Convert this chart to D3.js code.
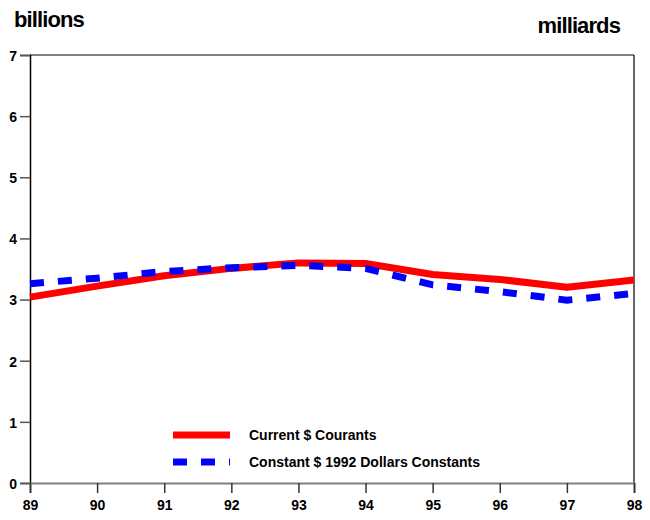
<!DOCTYPE html>
<html lang="en">
<head>
<meta charset="utf-8">
<title>billions / milliards</title>
<script src="https://d3js.org/d3.v7.min.js"></script>
<style>
    body { margin: 0; background: #fff; }
    text { font-family: 'Liberation Sans', Arial, sans-serif; font-weight: bold; fill: #000; }
    .unit { font-size: 22px; letter-spacing: -0.9px; }
    .axis text { font-size: 14px; }
    .legend text { font-size: 14px; }
</style>
</head>
<body>
<svg width="650" height="520"></svg>
<script>
// data (billions of dollars)
var years = ["89", "90", "91", "92", "93", "94", "95", "96", "97", "98"];
var currentDollars = [3.04, 3.22, 3.39, 3.51, 3.60, 3.59, 3.41, 3.33, 3.20, 3.32];
var constantDollars = [3.26, 3.35, 3.46, 3.52, 3.56, 3.51, 3.24, 3.13, 2.99, 3.10];
var yTicks = [0, 1, 2, 3, 4, 5, 6, 7];
var legendLabels = ["Current $ Courants", "Constant $ 1992 Dollars Constants"];

var svg = d3.select("svg"),
    margin = {top: 55, right: 16, bottom: 37, left: 30},
    width = +svg.attr("width") - margin.left - margin.right,
    height = +svg.attr("height") - margin.top - margin.bottom,
    g = svg.append("g").attr("transform", "translate(" + margin.left + "," + margin.top + ")");

var x = d3.scalePoint().domain(years).range([0, width]);
var y = d3.scaleLinear().domain([0, 7]).range([height, 0]);

// frame: top and right borders
g.append("line").attr("x1", 0).attr("x2", width).attr("y1", 0).attr("y2", 0)
    .attr("stroke", "#000").attr("stroke-width", 1.2);
g.append("line").attr("x1", width).attr("x2", width).attr("y1", 0).attr("y2", height)
    .attr("stroke", "#000").attr("stroke-width", 1.2);

// y axis
var yAxis = g.append("g")
    .attr("class", "axis")
    .call(d3.axisLeft(y).tickValues(yTicks).tickFormat(d3.format("d")).tickSize(10).tickPadding(3));
yAxis.select(".domain").attr("stroke", "#000").attr("stroke-width", 1.5);
yAxis.selectAll(".tick line").attr("stroke", "#555").attr("stroke-width", 1.5);
yAxis.selectAll(".tick text").attr("dy", "0.38em");

// x axis
var xAxis = g.append("g")
    .attr("class", "axis")
    .attr("transform", "translate(0," + height + ")")
    .call(d3.axisBottom(x).tickSize(10).tickPadding(7));
xAxis.select(".domain").attr("stroke", "#808080").attr("stroke-width", 2);
xAxis.selectAll(".tick line").attr("stroke", "#333").attr("stroke-width", 1.5);

// unit labels
svg.append("text").attr("class", "unit").attr("x", 14).attr("y", 27).text("billions");
svg.append("text").attr("class", "unit").attr("x", 620).attr("y", 33)
    .attr("text-anchor", "end").text("milliards");

// lines
var line = d3.line()
    .x(function(d, i) { return x(years[i]); })
    .y(function(d) { return y(d); });

g.append("path")
    .datum(currentDollars)
    .attr("fill", "none")
    .attr("stroke", "#ff0000")
    .attr("stroke-width", 7)
    .attr("stroke-linejoin", "round")
    .attr("d", line);

g.append("path")
    .datum(constantDollars)
    .attr("fill", "none")
    .attr("stroke", "#0000ff")
    .attr("stroke-width", 7)
    .attr("stroke-dasharray", "14,14")
    .attr("d", line);

// legend
var legend = svg.append("g").attr("class", "legend");
var legendStyles = [
    {color: "#ff0000", dash: null},
    {color: "#0000ff", dash: "14,14"}
];
legendLabels.forEach(function(label, i) {
    var ly = 435 + i * 27;
    legend.append("line")
        .attr("x1", 173).attr("x2", 230)
        .attr("y1", ly).attr("y2", ly)
        .attr("stroke", legendStyles[i].color)
        .attr("stroke-width", 7)
        .attr("stroke-dasharray", legendStyles[i].dash);
    legend.append("text")
        .attr("x", 249).attr("y", ly)
        .attr("dy", "0.36em")
        .text(label);
});
</script>
</body>
</html>
